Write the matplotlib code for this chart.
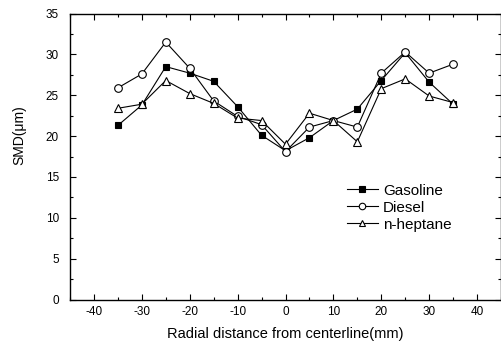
import numpy as np
import matplotlib.pyplot as plt
from matplotlib.ticker import MultipleLocator

plt.rcParams["font.family"] = ["Liberation Sans", "DejaVu Sans"]
plt.rcParams["axes.unicode_minus"] = False

radial = [-35, -30, -25, -20, -15, -10, -5, 0, 5, 10, 15, 20, 25, 30, 35]
gasoline = [21.3, 23.8, 28.5, 27.7, 26.7, 23.6, 20.1, 18.2, 19.8, 21.9, 23.3, 26.8, 30.2, 26.6, 23.9]
diesel = [25.9, 27.6, 31.5, 28.3, 24.3, 22.4, 21.4, 18.1, 21.1, 21.9, 21.1, 27.7, 30.3, 27.7, 28.8]
heptane = [23.4, 23.9, 26.8, 25.2, 24.0, 22.2, 21.9, 19.0, 22.8, 21.9, 19.3, 25.8, 27.0, 24.9, 24.1]

fig = plt.figure(figsize=(5.01, 3.44), dpi=100)
ax = fig.add_axes([70 / 501, 1 - 299.5 / 344, 431 / 501, 286 / 344])

style = dict(color="black", linewidth=0.8, markeredgewidth=0.8)
ax.plot(radial, gasoline, marker="s", markersize=4.5, markerfacecolor="black", label="Gasoline", **style)
ax.plot(radial, diesel, marker="o", markersize=5.5, markerfacecolor="white", label="Diesel", **style)
ax.plot(radial, heptane, marker="^", markersize=5.5, markerfacecolor="white", label="n-heptane", **style)

ax.set_xlim(-45, 45)
ax.set_ylim(0, 35)
ax.xaxis.set_major_locator(MultipleLocator(10))
ax.xaxis.set_minor_locator(MultipleLocator(5))
ax.yaxis.set_major_locator(MultipleLocator(5))
ax.yaxis.set_minor_locator(MultipleLocator(2.5))
ax.tick_params(which="both", direction="in", top=True, right=True, labelsize=8.5, width=0.8)
ax.tick_params(which="major", length=4)
ax.tick_params(which="minor", length=2)
ax.tick_params(axis="x", pad=5)
ax.tick_params(axis="y", pad=8)
for s in ax.spines.values():
    s.set_linewidth(1.0)

ax.set_xlabel("Radial distance from centerline(mm)", fontsize=10.5)
ax.set_ylabel("SMD(\u03bcm)", fontsize=10)
ax.xaxis.set_label_coords(0.5, -0.095)
ax.yaxis.set_label_coords(-0.102, 0.575)

leg = ax.legend(loc="upper left", bbox_to_anchor=(0.643, 0.405), frameon=False,
                fontsize=11, handlelength=2.0, handletextpad=0.35, labelspacing=0.2,
                borderpad=0, borderaxespad=0, markerscale=0.85)

fig.savefig("out.png", dpi=100)
